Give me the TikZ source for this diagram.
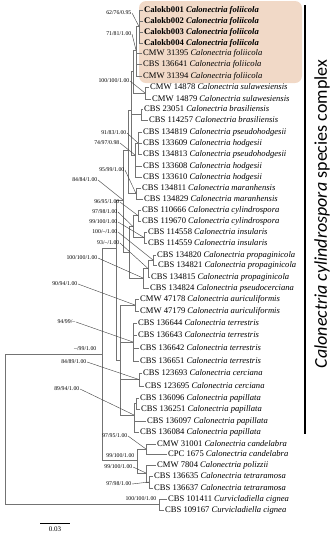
\documentclass[tikz,border=0pt]{standalone}
\usepackage{fontspec}
\setmainfont{Liberation Serif}
\newfontfamily\cpxfont{Carlito}
\usepackage{tikz}
\usetikzlibrary{positioning}
\definecolor{folbg}{RGB}{241,217,199}

\begin{document}
\begin{tikzpicture}[x=1pt, y=-1pt,
  tip/.style={anchor=west, inner sep=1pt, font=\fontsize{8.6}{9}\selectfont},
  sup/.style={anchor=east, inner sep=0.5pt, font=\fontsize{5.8}{6}\selectfont},
  br/.style={draw=black!55, line width=0.5pt},
  lead/.style={draw=black!75, line width=0.4pt},
  scl/.style={font=\fontsize{7}{7}\selectfont, inner sep=1pt}
]
  \useasboundingbox (0,0) rectangle (332,550);
  \fill[folbg, rounded corners=7pt] (139,1) rectangle (302,83);

  % taxa
  \node[tip] (t1) at (143,10) {\textbf{Calokb001 \textit{Calonectria foliicola}}};
  \node[tip] (t2) at (143,21) {\textbf{Calokb002 \textit{Calonectria foliicola}}};
  \node[tip] (t3) at (143,32) {\textbf{Calokb003 \textit{Calonectria foliicola}}};
  \node[tip] (t4) at (143,43) {\textbf{Calokb004 \textit{Calonectria foliicola}}};
  \node[tip] (t5) at (142,53) {CMW 31395 \textit{Calonectria foliicola}};
  \node[tip] (t6) at (142,64) {CBS 136641 \textit{Calonectria foliicola}};
  \node[tip] (t7) at (142,76) {CMW 31394 \textit{Calonectria foliicola}};
  \node[tip] (t8) at (149,87) {CMW 14878 \textit{Calonectria sulawesiensis}};
  \node[tip] (t9) at (151,99) {CMW 14879 \textit{Calonectria sulawesiensis}};
  \node[tip] (t10) at (143,109) {CBS 23051 \textit{Calonectria brasiliensis}};
  \node[tip] (t11) at (148,120) {CBS 114257 \textit{Calonectria brasiliensis}};
  \node[tip] (t12) at (142,132) {CBS 134819 \textit{Calonectria pseudohodgesii}};
  \node[tip] (t13) at (142,143) {CBS 133609 \textit{Calonectria hodgesii}};
  \node[tip] (t14) at (142,154) {CBS 134813 \textit{Calonectria pseudohodgesii}};
  \node[tip] (t15) at (142,166) {CBS 133608 \textit{Calonectria hodgesii}};
  \node[tip] (t16) at (142,177) {CBS 133610 \textit{Calonectria hodgesii}};
  \node[tip] (t17) at (141,188) {CBS 134811 \textit{Calonectria maranhensis}};
  \node[tip] (t18) at (143,199) {CBS 134829 \textit{Calonectria maranhensis}};
  \node[tip] (t19) at (141,210) {CBS 110666 \textit{Calonectria cylindrospora}};
  \node[tip] (t20) at (141,221) {CBS 119670 \textit{Calonectria cylindrospora}};
  \node[tip] (t21) at (147,232) {CBS 114558 \textit{Calonectria insularis}};
  \node[tip] (t22) at (147,243) {CBS 114559 \textit{Calonectria insularis}};
  \node[tip] (t23) at (156,255) {CBS 134820 \textit{Calonectria propaginicola}};
  \node[tip] (t24) at (157,265) {CBS 134821 \textit{Calonectria propaginicola}};
  \node[tip] (t25) at (150,277) {CBS 134815 \textit{Calonectria propaginicola}};
  \node[tip] (t26) at (149,288) {CBS 134824 \textit{Calonectria pseudocerciana}};
  \node[tip] (t27) at (139,299) {CMW 47178 \textit{Calonectria auriculiformis}};
  \node[tip] (t28) at (139,311) {CMW 47179 \textit{Calonectria auriculiformis}};
  \node[tip] (t29) at (137,323) {CBS 136644 \textit{Calonectria terrestris}};
  \node[tip] (t30) at (137,335) {CBS 136643 \textit{Calonectria terrestris}};
  \node[tip] (t31) at (139,348) {CBS 136642 \textit{Calonectria terrestris}};
  \node[tip] (t32) at (139,361) {CBS 136651 \textit{Calonectria terrestris}};
  \node[tip] (t33) at (142,373) {CBS 123693 \textit{Calonectria cerciana}};
  \node[tip] (t34) at (144,386) {CBS 123695 \textit{Calonectria cerciana}};
  \node[tip] (t35) at (139,398) {CBS 136096 \textit{Calonectria papillata}};
  \node[tip] (t36) at (140,409) {CBS 136251 \textit{Calonectria papillata}};
  \node[tip] (t37) at (146,421) {CBS 136097 \textit{Calonectria papillata}};
  \node[tip] (t38) at (139,432) {CBS 136084 \textit{Calonectria papillata}};
  \node[tip] (t39) at (156,444) {CMW 31001 \textit{Calonectria candelabra}};
  \node[tip] (t40) at (167,454) {CPC 1675 \textit{Calonectria candelabra}};
  \node[tip] (t41) at (156,465) {CMW 7804 \textit{Calonectria polizzii}};
  \node[tip] (t42) at (153,476) {CBS 136635 \textit{Calonectria tetraramosa}};
  \node[tip] (t43) at (153,488) {CBS 136637 \textit{Calonectria tetraramosa}};
  \node[tip] (t44) at (167,499) {CBS 101411 \textit{Curvicladiella cignea}};
  \node[tip] (t45) at (164,510) {CBS 109167 \textit{Curvicladiella cignea}};

  % internal nodes
  \coordinate (nCk) at (139,26.5);
  \coordinate (nFo) at (136,50);
  \coordinate (nSu) at (145,93);
  \coordinate (nFS) at (133,71);
  \coordinate (nBr) at (141,114.5);
  \coordinate (nH1) at (138,143);
  \coordinate (nHo) at (135,155);
  \coordinate (nU1) at (131,110);
  \coordinate (nMa) at (136,193.5);
  \coordinate (nU) at (128,150);
  \coordinate (nCy) at (138,215.5);
  \coordinate (nIn) at (144,237.5);
  \coordinate (nCI) at (133,226.5);
  \coordinate (nPp) at (153,260);
  \coordinate (nPq) at (148,268.5);
  \coordinate (nPs) at (143,278);
  \coordinate (nL) at (129,252);
  \coordinate (nS1) at (123,200);
  \coordinate (nAu) at (135,305);
  \coordinate (nTe) at (133,342);
  \coordinate (nCe) at (139,379.5);
  \coordinate (nPa1) at (136,403.5);
  \coordinate (nPa) at (134,415);
  \coordinate (nS2) at (120,360);
  \coordinate (nS) at (116,248);
  \coordinate (nCa) at (146,449);
  \coordinate (nTt) at (149,482);
  \coordinate (nPT) at (146,473);
  \coordinate (nB) at (137,460);
  \coordinate (nI) at (102,354);
  \coordinate (nO) at (159,504.5);
  \coordinate (nR) at (5,430);

  % branches
  \draw[br] (nCk) |- (t1.west) (nCk) |- (t2.west) (nCk) |- (t3.west) (nCk) |- (t4.west);
  \draw[br] (nFo) |- (nCk) (nFo) |- (t5.west) (nFo) |- (t6.west) (nFo) |- (t7.west);
  \draw[br] (nSu) |- (t8.west) (nSu) |- (t9.west);
  \draw[br] (nFS) |- (nFo) (nFS) |- (nSu);
  \draw[br] (nBr) |- (t10.west) (nBr) |- (t11.west);
  \draw[br] (nH1) |- (t12.west) (nH1) |- (t13.west) (nH1) |- (t14.west);
  \draw[br] (nHo) |- (nH1) (nHo) |- (t15.west) (nHo) |- (t16.west);
  \draw[br] (nU1) |- (nFS) (nU1) |- (nBr) (nU1) |- (nHo);
  \draw[br] (nMa) |- (t17.west) (nMa) |- (t18.west);
  \draw[br] (nU) |- (nU1) (nU) |- (nMa);
  \draw[br] (nCy) |- (t19.west) (nCy) |- (t20.west);
  \draw[br] (nIn) |- (t21.west) (nIn) |- (t22.west);
  \draw[br] (nCI) |- (nCy) (nCI) |- (nIn);
  \draw[br] (nPp) |- (t23.west) (nPp) |- (t24.west);
  \draw[br] (nPq) |- (nPp) (nPq) |- (t25.west);
  \draw[br] (nPs) |- (nPq) (nPs) |- (t26.west);
  \draw[br] (nL) |- (nCI) (nL) |- (nPs);
  \draw[br] (nS1) |- (nU) (nS1) |- (nL);
  \draw[br] (nAu) |- (t27.west) (nAu) |- (t28.west);
  \draw[br] (nTe) |- (t29.west) (nTe) |- (t30.west) (nTe) |- (t31.west) (nTe) |- (t32.west);
  \draw[br] (nCe) |- (t33.west) (nCe) |- (t34.west);
  \draw[br] (nPa1) |- (t35.west) (nPa1) |- (t36.west);
  \draw[br] (nPa) |- (nPa1) (nPa) |- (t37.west) (nPa) |- (t38.west);
  \draw[br] (nS2) |- (nAu) (nS2) |- (nTe) (nS2) |- (nCe) (nS2) |- (nPa);
  \draw[br] (nS) |- (nS1) (nS) |- (nS2);
  \draw[br] (nCa) |- (t39.west) (nCa) |- (t40.west);
  \draw[br] (nTt) |- (t42.west) (nTt) |- (t43.west);
  \draw[br] (nPT) |- (t41.west) (nPT) |- (nTt);
  \draw[br] (nB) |- (nCa) (nB) |- (nPT);
  \draw[br] (nI) |- (nS) (nI) |- (nB);
  \draw[br] (nO) |- (t44.west) (nO) |- (t45.west);
  \draw[br] (nR) |- (nI) (nR) |- (nO);

  % support values
  \node[sup] (s1) at (132,13) {62/76/0.95};
  \node[sup] (s2) at (132,34) {71/81/1.00};
  \node[sup] (s3) at (130,81) {100/100/1.00};
  \node[sup] (s4) at (127,133) {91/83/1.00};
  \node[sup] (s5) at (120,143) {74/97/0.98};
  \node[sup] (s6) at (125,170) {95/99/1.00};
  \node[sup] (s7) at (98,180) {84/84/1.00};
  \node[sup] (s8) at (120,202) {96/95/1.00};
  \node[sup] (s9) at (118,212) {97/98/1.00};
  \node[sup] (s10) at (118,222) {99/100/1.00};
  \node[sup] (s11) at (118,232) {100/--/1.00};
  \node[sup] (s12) at (120,243) {93/--/1.00};
  \node[sup] (s13) at (98,258) {100/100/1.00};
  \node[sup] (s14) at (78,284) {90/94/1.00};
  \node[sup] (s15) at (76,322) {94/99/--};
  \node[sup] (s16) at (97,349) {--/99/1.00};
  \node[sup] (s17) at (87,362) {84/89/1.00};
  \node[sup] (s18) at (80,389) {89/94/1.00};
  \node[sup] (s19) at (128,436) {97/95/1.00};
  \node[sup] (s20) at (135,456) {99/100/1.00};
  \node[sup] (s21) at (133,467) {99/100/1.00};
  \node[sup] (s22) at (132,484) {97/98/1.00};
  \node[sup] (s23) at (157,499) {100/100/1.00};

  \draw[lead] (s1.east) -- (nCk);
  \draw[lead] (s2.east) -- (nFo);
  \draw[lead] (s3.east) -- (nSu);
  \draw[lead] (s4.east) -- (nH1);
  \draw[lead] (s5.east) -- (nHo);
  \draw[lead] (s6.east) -- (nMa);
  \draw[lead] (s7.east) -- (nS1);
  \draw[lead] (s8.east) -- (nCy);
  \draw[lead] (s9.east) -- (nCI);
  \draw[lead] (s10.east) -- (nIn);
  \draw[lead] (s11.east) -- (nPp);
  \draw[lead] (s12.east) -- (nPq);
  \draw[lead] (s13.east) -- (nPs);
  \draw[lead] (s14.east) -- (nAu);
  \draw[lead] (s15.east) -- (nTe);
  \draw[lead] (s17.east) -- (nCe);
  \draw[lead] (s18.east) -- (nPa);
  \draw[lead] (s19.east) -- (nCa);
  \draw[lead] (s21.east) -- (nPT);
  \draw[lead] (s22.east) -- (nTt);

  % species complex bar
  \coordinate (barT) at (305,5);
  \coordinate (barB) at (305,434);
  \draw[line width=1.3pt] (barT) -- (barB);
  \node[rotate=90, font=\cpxfont\fontsize{18}{18}\selectfont] (cplx) at (322,214)
    {\textit{Calonectria cylindrospora} species complex};

  % scale bar
  \coordinate (sbL) at (40,523);
  \coordinate (sbR) at (70,523);
  \coordinate (sbM) at (55,523);
  \draw[line width=0.6pt] (sbL) -- (sbR);
  \node[scl, below=3pt of sbM] (sbtxt) {0.03};
\end{tikzpicture}
\end{document}
